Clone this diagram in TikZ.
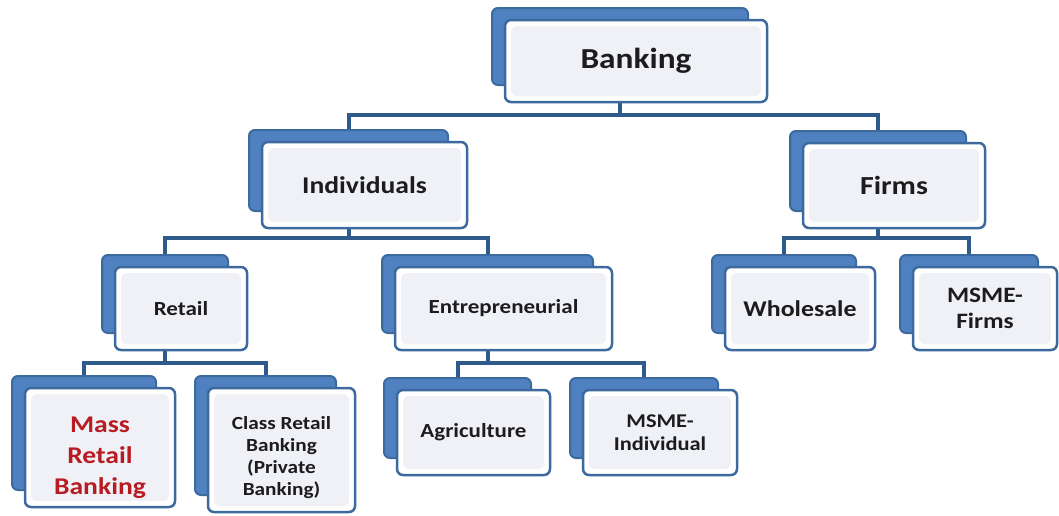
\documentclass[tikz,border=0pt]{standalone}
\usepackage{fontspec}
\setmainfont{Carlito}[FakeStretch=1.15]
\usetikzlibrary{calc}
\definecolor{connc}{HTML}{2E5A8C}
\definecolor{edgec}{HTML}{3D6A9E}
\definecolor{tabc}{HTML}{4F80BF}
\definecolor{innerc}{HTML}{EFF1F6}
\definecolor{txtc}{HTML}{1C1C1C}
\definecolor{massred}{HTML}{B81C22}
\pgfdeclarelayer{bg}
\pgfdeclarelayer{conns}
\pgfsetlayers{bg,conns,main}
\tikzset{
  backcard/.style={draw=edgec, fill=tabc, line width=2pt, rounded corners=6pt, inner sep=0pt},
  frontcard/.style={draw=edgec, fill=white, line width=2.5pt, rounded corners=6pt,
    inner sep=0pt, align=center, text=txtc,
    path picture={\fill[innerc] ([shift={(6pt,-6pt)}]path picture bounding box.north west)
      rectangle ([shift={(-6pt,6pt)}]path picture bounding box.south east);}},
  conn/.style={draw=connc, line width=4pt},
}
% name, cx, cy, w, h, font size, baselineskip, text
\newcommand\mkcard[8]{%
  \node[backcard, minimum width={#4pt-6pt}, minimum height={#5pt-5pt}] (#1b) at ({#2-16},{#3-14.5}) {};
  \node[frontcard, minimum width=#4pt, minimum height=#5pt,
        font=\bfseries\fontsize{#6}{#7}\selectfont] (#1) at (#2,#3) {#8};
}
\begin{document}
\begin{tikzpicture}[x=1pt,y=-1pt]
\begin{pgfonlayer}{bg}
  \fill[white] (0,0) rectangle (1059,515);
\end{pgfonlayer}
\useasboundingbox (0,0) rectangle (1059,515);

\mkcard{banking}{636}{61}{262}{82}{29}{33}{Banking}
\mkcard{indiv}{364.5}{185}{205}{86}{24}{28}{Individuals}
\mkcard{firms}{894}{185.5}{182}{85}{26}{30}{Firms}
\mkcard{retail}{181}{308.5}{132}{83}{20}{24}{Retail}
\mkcard{entre}{503.5}{308.5}{217}{83}{20}{24}{Entrepreneurial}
\mkcard{whole}{800}{308.5}{150}{83}{22.5}{26}{Wholesale}
\mkcard{msmef}{985}{308.5}{144}{83}{22}{26}{MSME-\\Firms}
\mkcard{mass}{100}{447.5}{150}{119}{24}{31}{\rule{0pt}{36pt}\color{massred}Mass\\\color{massred}Retail\\\color{massred}Banking}
\mkcard{class}{281.5}{450}{147}{124}{18.5}{22}{\rule{0pt}{28pt}Class Retail\\Banking\\(Private\\Banking)}
\mkcard{agri}{473.5}{432.5}{153}{85}{20}{24}{Agriculture}
\mkcard{msmei}{660}{432.5}{154}{85}{19.5}{23}{MSME-\\Individual}

\begin{pgfonlayer}{conns}
  % level 1
  \draw[conn] (bankingb.south |- banking.south) -- (bankingb.south |- 0,115);
  \draw[conn] (indivb.north) -- (indivb.north |- 0,115) -- (firmsb.north |- 0,115) -- (firmsb.north);
  % level 2
  \draw[conn] (indivb.south |- indiv.south) -- (indivb.south |- 0,238);
  \draw[conn] (retailb.north) -- (retailb.north |- 0,238) -- (entreb.north |- 0,238) -- (entreb.north);
  \draw[conn] (firmsb.south |- firms.south) -- (firmsb.south |- 0,238);
  \draw[conn] (wholeb.north) -- (wholeb.north |- 0,238) -- (msmefb.north |- 0,238) -- (msmefb.north);
  % level 3
  \draw[conn] (retailb.south |- retail.south) -- (retailb.south |- 0,363);
  \draw[conn] (massb.north) -- (massb.north |- 0,363) -- (classb.north |- 0,363) -- (classb.north);
  \draw[conn] (entreb.south |- entre.south) -- (entreb.south |- 0,363);
  \draw[conn] (agrib.north) -- (agrib.north |- 0,363) -- (msmeib.north |- 0,363) -- (msmeib.north);
\end{pgfonlayer}
\end{tikzpicture}
\end{document}
